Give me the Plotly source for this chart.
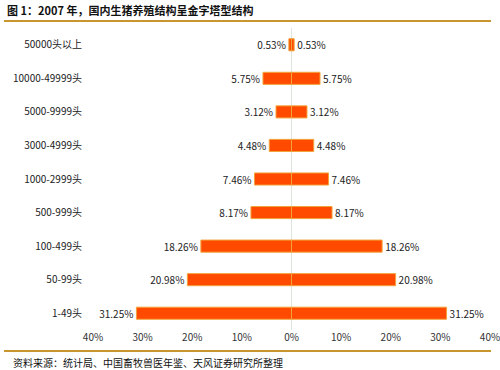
import plotly.graph_objects as go

categories = ["1-49头", "50-99头", "100-499头", "500-999头", "1000-2999头",
              "3000-4999头", "5000-9999头", "10000-49999头", "50000头以上"]
shares = [31.25, 20.98, 18.26, 8.17, 7.46, 4.48, 3.12, 5.75, 0.53]
tick_vals = [-40, -30, -20, -10, 0, 10, 20, 30, 40]
tick_text = ["40%", "30%", "20%", "10%", "0%", "10%", "20%", "30%", "40%"]

title_text = "图 1：2007 年，国内生猪养殖结构呈金字塔型结构"
source_text = "资料来源：统计局、中国畜牧兽医年鉴、天风证券研究所整理"

labels = [f"{v:.2f}%" for v in shares]
font_fam = "Noto Sans CJK SC, DejaVu Sans, sans-serif"
bar_fill = "#FF4A00"
bar_line = "#F2A23A"

fig = go.Figure()
fig.add_trace(go.Bar(
    y=categories, x=[-v for v in shares], orientation="h",
    text=labels, textposition="outside", cliponaxis=False,
    marker=dict(color=bar_fill, line=dict(color=bar_line, width=1)),
    textfont=dict(size=10, color="#222"), showlegend=False,
))
fig.add_trace(go.Bar(
    y=categories, x=shares, orientation="h",
    text=labels, textposition="outside", cliponaxis=False,
    marker=dict(color=bar_fill, line=dict(color=bar_line, width=1)),
    textfont=dict(size=10, color="#222"), showlegend=False,
))

W = 397  # plot width in px
fig.update_layout(
    width=500, height=370, autosize=False,
    margin=dict(l=93, r=10, t=28, b=40),
    barmode="overlay", bargap=0.64,
    plot_bgcolor="white", paper_bgcolor="white",
    font=dict(family=font_fam, size=10, color="#222"),
    xaxis=dict(range=[-40, 40], tickvals=tick_vals, ticktext=tick_text,
               showgrid=False, zeroline=True, zerolinecolor="#DDE6DD",
               zerolinewidth=1, showline=False, ticks="", automargin=False,
               ticklabeloverflow="allow",
               tickfont=dict(size=10, color="#333")),
    yaxis=dict(showgrid=False, zeroline=False, showline=False, automargin=False,
               ticks="outside", ticklen=8, tickcolor="rgba(0,0,0,0)",
               tickfont=dict(size=10, color="#222")),
    uniformtext=dict(minsize=9, mode="show"),
)

fig.add_annotation(text=f"<b>{title_text}</b>", xref="paper", yref="paper",
                   x=-88/W, y=1 + 18/302, xanchor="left", yanchor="middle",
                   showarrow=False, font=dict(size=11, color="#111", family=font_fam))
fig.add_annotation(text=source_text, xref="paper", yref="paper",
                   x=-82/W, y=-32/302, xanchor="left", yanchor="middle",
                   showarrow=False, font=dict(size=10, color="#111", family=font_fam))
line_color = "#C9952E"
fig.add_shape(type="line", xref="paper", yref="paper",
              x0=-89/W, x1=1 + 1/W, y0=1 + 7/302, y1=1 + 7/302,
              line=dict(color=line_color, width=2))
fig.add_shape(type="line", xref="paper", yref="paper",
              x0=-89/W, x1=1 + 1/W, y0=-21/302, y1=-21/302,
              line=dict(color=line_color, width=2))

fig.write_html(
    "out.html",
    config={"displayModeBar": False, "responsive": False},
    post_script="document.body.style.margin='0';document.body.style.overflow='hidden';",
)
